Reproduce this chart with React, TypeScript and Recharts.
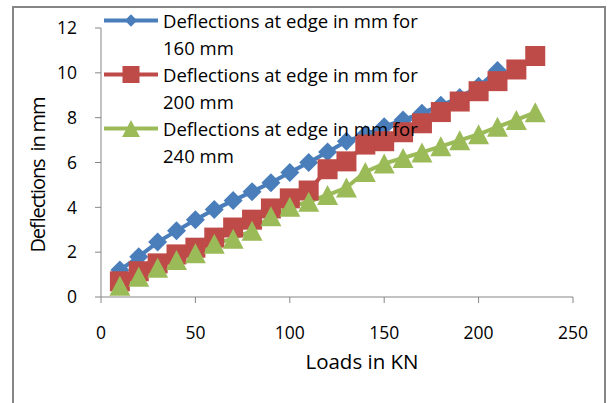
import React from "react"
import { LineChart, Line, XAxis, YAxis } from "recharts"

// loads in KN
const loads = [10, 20, 30, 40, 50, 60, 70, 80, 90, 100, 110, 120, 130, 140, 150, 160, 170, 180, 190, 200, 210, 220, 230]

// deflections at edge in mm, per slab thickness
const d160 = [1.2, 1.8, 2.45, 2.95, 3.45, 3.9, 4.3, 4.7, 5.1, 5.55, 6.0, 6.47, 6.95, 7.25, 7.6, 7.9, 8.2, 8.55, 8.9, 9.4, 10.1]
const d200 = [0.7, 1.15, 1.5, 1.9, 2.2, 2.65, 3.1, 3.45, 3.95, 4.4, 4.75, 5.7, 6.05, 6.8, 6.95, 7.35, 7.75, 8.25, 8.72, 9.18, 9.63, 10.15, 10.75]
const d240 = [0.5, 0.9, 1.3, 1.65, 1.95, 2.38, 2.6, 2.95, 3.6, 4.03, 4.25, 4.55, 4.88, 5.58, 5.95, 6.2, 6.45, 6.72, 6.99, 7.26, 7.59, 7.9, 8.24]

const xTicks = [0, 50, 100, 150, 200, 250]
const yTicks = [0, 2, 4, 6, 8, 10, 12]

const series = [
  { key: "s160", name: "Deflections at edge in mm for", sub: "160 mm", color: "#4A7EBB", shape: "diamond" },
  { key: "s200", name: "Deflections at edge in mm for", sub: "200 mm", color: "#BE4B48", shape: "square" },
  { key: "s240", name: "Deflections at edge in mm for", sub: "240 mm", color: "#9BBB59", shape: "triangle" },
]

const data = loads.map((load, i) => ({
  load,
  s160: d160[i],
  s200: d200[i],
  s240: d240[i],
}))

const FONT = "'Open Sans', sans-serif"
const AXIS = "#868686"

function Marker({ shape, cx, cy, color, scale = 1 }: { shape: string; cx: number; cy: number; color: string; scale?: number }) {
  if (cx == null || cy == null || isNaN(cx) || isNaN(cy)) return null
  if (shape === "diamond") {
    const r = 9.5 * scale
    return <path d={`M${cx},${cy - r}L${cx + r},${cy}L${cx},${cy + r}L${cx - r},${cy}Z`} fill={color} />
  }
  if (shape === "square") {
    const s = 20 * scale
    return <rect x={cx - s / 2} y={cy - s / 2} width={s} height={s} fill={color} />
  }
  const w = 10.5 * scale
  const h = 10 * scale
  return <path d={`M${cx},${cy - h}L${cx + w},${cy + h}L${cx - w},${cy + h}Z`} fill={color} />
}

function makeDot(shape: string, color: string) {
  return (props: any) => (
    <Marker key={`${shape}-${props.index}`} shape={shape} cx={props.cx} cy={props.cy} color={color} />
  )
}

// legend drawn over the plot, like the Excel original
function LegendBox() {
  const small: Record<string, number> = { diamond: 0.65, square: 0.85, triangle: 0.85 }
  return (
    <div style={{ position: "absolute", left: 104, top: 7, fontFamily: FONT, fontSize: 18.5, lineHeight: "27px", color: "#000", whiteSpace: "nowrap" }}>
      {series.map((s) => (
        <div key={s.key} style={{ display: "flex", alignItems: "flex-start" }}>
          <svg width={59} height={27} style={{ flex: "none" }}>
            <line x1={0} y1={13.5} x2={54} y2={13.5} stroke={s.color} strokeWidth={4} />
            <Marker shape={s.shape} cx={27} cy={13.5} color={s.color} scale={small[s.shape]} />
          </svg>
          <div>
            <div>{s.name}</div>
            <div>{s.sub}</div>
          </div>
        </div>
      ))}
    </div>
  )
}

function YTitle({ viewBox }: any) {
  const x = viewBox.x - 4
  const y = viewBox.y + viewBox.height / 2 + 12
  return (
    <text x={x} y={y} transform={`rotate(-90, ${x}, ${y})`} textAnchor="middle" dominantBaseline="central"
      fontFamily={FONT} fontSize={20} fill="#000" textLength={156} lengthAdjust="spacing">
      {"Deflections\u00a0\u00a0in mm"}
    </text>
  )
}

function XTitle({ viewBox }: any) {
  const x = viewBox.x + viewBox.width / 2 + 25
  const y = viewBox.y + 64
  return (
    <text x={x} y={y} textAnchor="middle" dominantBaseline="central" fontFamily={FONT} fontSize={20.5} fill="#000">
      Loads in KN
    </text>
  )
}

export default function App() {
  return (
    <div style={{ position: "absolute", left: 0, top: 0, width: 608, height: 403, overflow: "hidden", background: "#fff" }}>
      <div style={{ position: "absolute", left: 12, top: 6, width: 594, height: 420, border: `2px solid ${AXIS}`, boxSizing: "border-box" }} />
      <div style={{ position: "absolute", left: 0, top: 0 }}>
        <LineChart width={608} height={403} data={data} margin={{ top: 28, right: 35, left: 41, bottom: 46 }}>
          <XAxis
            dataKey="load"
            type="number"
            domain={[0, 250]}
            ticks={xTicks}
            stroke={AXIS}
            tickSize={6}
            tickMargin={24}
            height={60}
            tick={{ fill: "#000", fontFamily: FONT, fontSize: 17.5 }}
            label={<XTitle />}
          />
          <YAxis
            type="number"
            domain={[0, 12]}
            ticks={yTicks}
            stroke={AXIS}
            tickSize={6}
            tickMargin={18}
            width={60}
            tick={{ fill: "#000", fontFamily: FONT, fontSize: 17.5 }}
            label={<YTitle />}
          />
          {series.map((s) => (
            <Line
              key={s.key}
              dataKey={s.key}
              name={s.name}
              type="linear"
              stroke={s.color}
              strokeWidth={4}
              dot={makeDot(s.shape, s.color)}
              activeDot={false}
              isAnimationActive={false}
            />
          ))}
        </LineChart>
      </div>
      <LegendBox />
    </div>
  )
}
